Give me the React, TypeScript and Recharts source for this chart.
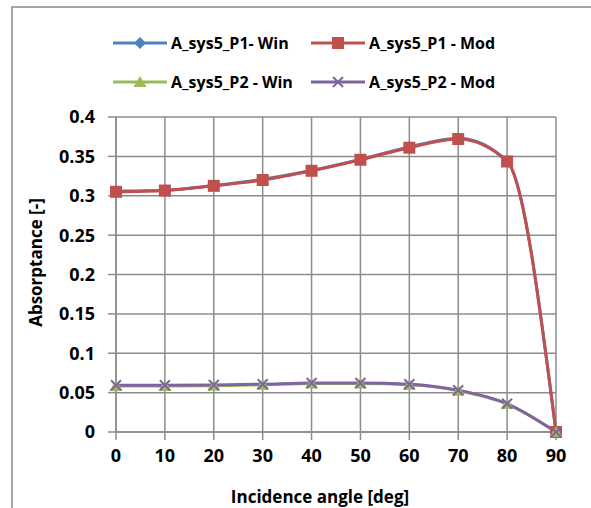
import React from "react";
import { LineChart, Line, XAxis, YAxis, CartesianGrid } from "recharts";

const angles = [0, 10, 20, 30, 40, 50, 60, 70, 80, 90];
const p1Win = [0.306, 0.307, 0.313, 0.321, 0.332, 0.346, 0.362, 0.373, 0.344, 0];
const p1Mod = [0.305, 0.3066, 0.3126, 0.32, 0.3317, 0.3457, 0.361, 0.372, 0.3435, 0];
const p2Win = [0.0585, 0.0585, 0.0588, 0.06, 0.0615, 0.0615, 0.06, 0.0525, 0.0355, 0];
const p2Mod = [0.0594, 0.0594, 0.0597, 0.0607, 0.0623, 0.0623, 0.0607, 0.053, 0.036, 0];
const yTicks = [0, 0.05, 0.1, 0.15, 0.2, 0.25, 0.3, 0.35, 0.4];

const BLUE = "#4F81BD";
const RED = "#C0504D";
const GREEN = "#9BBB59";
const PURPLE = "#8064A2";
const FONT = "'Open Sans', sans-serif";

const data = angles.map((a, i) => ({
  angle: a,
  p1Win: p1Win[i],
  p1Mod: p1Mod[i],
  p2Win: p2Win[i],
  p2Mod: p2Mod[i],
}));

function Diamond({ cx, cy, color }: any) {
  return <path d={`M${cx},${cy - 6} L${cx + 6},${cy} L${cx},${cy + 6} L${cx - 6},${cy} Z`} fill={color} />;
}
function Square({ cx, cy, color }: any) {
  return <rect x={cx - 6} y={cy - 6} width={12} height={12} fill={color} />;
}
function Triangle({ cx, cy, color }: any) {
  return <path d={`M${cx},${cy - 6} L${cx + 6.5},${cy + 5} L${cx - 6.5},${cy + 5} Z`} fill={color} />;
}
function Cross({ cx, cy, color }: any) {
  return (
    <path
      d={`M${cx - 5},${cy - 5} L${cx + 5},${cy + 5} M${cx + 5},${cy - 5} L${cx - 5},${cy + 5}`}
      stroke={color}
      strokeWidth={2}
      fill="none"
    />
  );
}

const legendItems = [
  { name: "A_sys5_P1- Win", color: BLUE, Marker: Diamond, left: 113, top: 43 },
  { name: "A_sys5_P1 - Mod", color: RED, Marker: Square, left: 311, top: 43 },
  { name: "A_sys5_P2 - Win", color: GREEN, Marker: Triangle, left: 113, top: 82 },
  { name: "A_sys5_P2 - Mod", color: PURPLE, Marker: Cross, left: 311, top: 82 },
];

function LegendBox() {
  return (
    <>
      {legendItems.map((it) => (
        <div
          key={it.name}
          style={{
            position: "absolute",
            left: it.left,
            top: it.top - 12,
            height: 24,
            display: "flex",
            alignItems: "center",
            fontFamily: FONT,
            fontWeight: 700,
            fontSize: 16,
            color: "#000",
            whiteSpace: "nowrap",
          }}
        >
          <svg width={54} height={24} style={{ marginRight: 4 }}>
            <line x1={0} y1={12} x2={54} y2={12} stroke={it.color} strokeWidth={3} />
            <it.Marker cx={27} cy={12} color={it.color} />
          </svg>
          {it.name}
        </div>
      ))}
    </>
  );
}

export default function App() {
  const tickStyle = { fontFamily: FONT, fontWeight: 700, fontSize: 18, fill: "#000" };
  return (
    <div style={{ position: "absolute", left: 0, top: 0, width: 591, height: 508, background: "#fff", overflow: "hidden" }}>
      <div
        style={{
          position: "absolute",
          left: 11,
          top: 6,
          width: 600,
          height: 520,
          borderLeft: "2px solid #a6a6a6",
          borderTop: "2px solid #a6a6a6",
        }}
      />
      <LegendBox />
      <LineChart
        width={591}
        height={508}
        data={data}
        margin={{ top: 117, right: 35, bottom: 0, left: 56 }}
        style={{ position: "absolute", left: 0, top: 0 }}
      >
        <CartesianGrid stroke="#8c8c8c" strokeWidth={1.5} />
        <XAxis
          dataKey="angle"
          type="number"
          domain={[0, 90]}
          ticks={angles}
          height={76}
          tickSize={8}
          tickMargin={9}
          tick={tickStyle}
          stroke="#8c8c8c"
          strokeWidth={1.5}
          label={{
            value: "Incidence angle [deg]",
            position: "insideBottom",
            offset: 5,
            dx: -16,
            style: { fontFamily: FONT, fontWeight: 700, fontSize: 17, fill: "#000" },
          }}
        />
        <YAxis
          type="number"
          domain={[0, 0.4]}
          ticks={yTicks}
          width={60}
          tickSize={8}
          tickMargin={13}
          tick={tickStyle}
          tickFormatter={(v: number) => String(Number(v.toFixed(2)))}
          stroke="#8c8c8c"
          strokeWidth={1.5}
          label={{
            value: "Absorptance [-]",
            angle: -90,
            position: "insideLeft",
            content: (props: any) => {
              const vb = props.viewBox;
              const x = vb.x - 21;
              const y = vb.y + vb.height / 2 - 12;
              return (
                <text
                  x={x}
                  y={y}
                  transform={`rotate(-90 ${x} ${y})`}
                  textAnchor="middle"
                  dominantBaseline="central"
                  style={{ fontFamily: FONT, fontWeight: 700, fontSize: 17, fill: "#000" }}
                >
                  Absorptance [-]
                </text>
              );
            },
          }}
        />
        <Line
          dataKey="p1Win"
          type="monotone"
          stroke={BLUE}
          strokeWidth={3}
          dot={(p: any) => <Diamond key={p.index} cx={p.cx} cy={p.cy} color={BLUE} />}
          activeDot={false}
          isAnimationActive={false}
        />
        <Line
          dataKey="p1Mod"
          type="monotone"
          stroke={RED}
          strokeWidth={3}
          dot={(p: any) => <Square key={p.index} cx={p.cx} cy={p.cy} color={RED} />}
          activeDot={false}
          isAnimationActive={false}
        />
        <Line
          dataKey="p2Win"
          type="monotone"
          stroke={GREEN}
          strokeWidth={3}
          dot={(p: any) => <Triangle key={p.index} cx={p.cx} cy={p.cy} color={GREEN} />}
          activeDot={false}
          isAnimationActive={false}
        />
        <Line
          dataKey="p2Mod"
          type="monotone"
          stroke={PURPLE}
          strokeWidth={3}
          dot={(p: any) => <Cross key={p.index} cx={p.cx} cy={p.cy} color={PURPLE} />}
          activeDot={false}
          isAnimationActive={false}
        />
      </LineChart>
    </div>
  );
}
